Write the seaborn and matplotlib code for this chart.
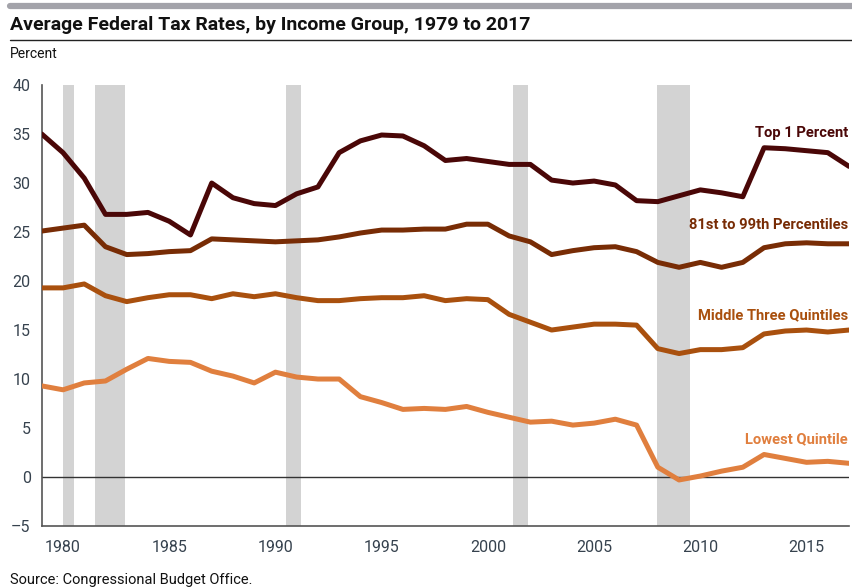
import numpy as np
import pandas as pd
import matplotlib.pyplot as plt
import seaborn as sns
from matplotlib.lines import Line2D

years = list(range(1979, 2018))

top_1 = [35.0, 33.1, 30.5, 26.8, 26.8, 27.0, 26.1, 24.7, 30.0, 28.5,
         27.9, 27.7, 28.9, 29.6, 33.1, 34.3, 34.9, 34.8, 33.8, 32.3,
         32.5, 32.2, 31.9, 31.9, 30.3, 30.0, 30.2, 29.8, 28.2, 28.1,
         28.7, 29.3, 29.0, 28.6, 33.6, 33.5, 33.3, 33.1, 31.7]
pct_81_99 = [25.1, 25.4, 25.7, 23.5, 22.7, 22.8, 23.0, 23.1, 24.3, 24.2,
             24.1, 24.0, 24.1, 24.2, 24.5, 24.9, 25.2, 25.2, 25.3, 25.3,
             25.8, 25.8, 24.6, 24.0, 22.7, 23.1, 23.4, 23.5, 23.0, 21.9,
             21.4, 21.9, 21.4, 21.9, 23.4, 23.8, 23.9, 23.8, 23.8]
middle_three = [19.3, 19.3, 19.7, 18.5, 17.9, 18.3, 18.6, 18.6, 18.2, 18.7,
                18.4, 18.7, 18.3, 18.0, 18.0, 18.2, 18.3, 18.3, 18.5, 18.0,
                18.2, 18.1, 16.6, 15.8, 15.0, 15.3, 15.6, 15.6, 15.5, 13.1,
                12.6, 13.0, 13.0, 13.2, 14.6, 14.9, 15.0, 14.8, 15.0]
lowest = [9.3, 8.9, 9.6, 9.8, 11.0, 12.1, 11.8, 11.7, 10.8, 10.3,
          9.6, 10.7, 10.2, 10.0, 10.0, 8.2, 7.6, 6.9, 7.0, 6.9,
          7.2, 6.6, 6.1, 5.6, 5.7, 5.3, 5.5, 5.9, 5.3, 1.0,
          -0.3, 0.1, 0.6, 1.0, 2.3, 1.9, 1.5, 1.6, 1.4]

groups = ['Top 1 Percent', '81st to 99th Percentiles',
          'Middle Three Quintiles', 'Lowest Quintile']
colors = ['#4a0707', '#782c05', '#a9500e', '#e07f3e']
label_y = [35.1, 25.7, 16.5, 3.9]

# recessions (start, end) in fractional years
rec_start = [1980.0, 1981.5, 1990.5, 2001.2, 2007.95]
rec_end = [1980.5, 1982.9, 1991.2, 2001.9, 2009.5]

df = pd.DataFrame({
    'year': years * 4,
    'rate': top_1 + pct_81_99 + middle_three + lowest,
    'group': np.repeat(groups, len(years)),
})

sns.set_style('white')
plt.rcParams['font.family'] = ['Roboto', 'DejaVu Sans']

fig = plt.figure(figsize=(8.52, 5.88), dpi=100)
ax = fig.add_axes([0.049, 0.1054, 0.9475, 0.75])

for s, e in zip(rec_start, rec_end):
    ax.axvspan(s, e, color='#d3d3d3', lw=0, zorder=0)

ax.axhline(0, color='#333333', lw=1, zorder=1)

sns.lineplot(data=df, x='year', y='rate', hue='group', hue_order=groups,
             palette=dict(zip(groups, colors)), linewidth=3.6, legend=False,
             ax=ax, zorder=3)

for g, c, yv in zip(groups, colors, label_y):
    ax.text(2016.95, yv, g, color=c, ha='right', va='center',
            fontsize=10.6, fontweight='bold')

ax.set_xlim(1979, 2017)
ax.set_ylim(-5, 40)
ax.set_xticks(range(1980, 2016, 5))
ax.set_yticks(range(-5, 41, 5))
ax.set_yticklabels([f'\u2013{abs(v)}' if v < 0 else str(v) for v in range(-5, 41, 5)])
ax.set_xlabel('')
ax.set_ylabel('')
ax.tick_params(axis='both', direction='in', length=5, width=1, color='#555555',
               labelcolor='#36424e', labelsize=11.5)
ax.tick_params(axis='y', pad=8)
ax.tick_params(axis='x', pad=10)
for side in ['top', 'right']:
    ax.spines[side].set_visible(False)
for side in ['left', 'bottom']:
    ax.spines[side].set_color('#555555')
    ax.spines[side].set_linewidth(1.2)

# header
fig.add_artist(Line2D([0.012, 1.0], [0.9905, 0.9905], color='#a3a3aa', lw=4.5))
fig.add_artist(Line2D([0.012, 1.0], [0.932, 0.932], color='#222222', lw=1))
fig.text(0.012, 0.958, 'Average Federal Tax Rates, by Income Group, 1979 to 2017',
         fontsize=14, fontweight='bold', color='#111111', va='center')
fig.text(0.012, 0.908, 'Percent', fontsize=10, color='#111111', va='center')
fig.text(0.012, 0.014, 'Source: Congressional Budget Office.', fontsize=10.5,
         color='#111111', va='center')

fig.savefig('out.png', dpi=100)
